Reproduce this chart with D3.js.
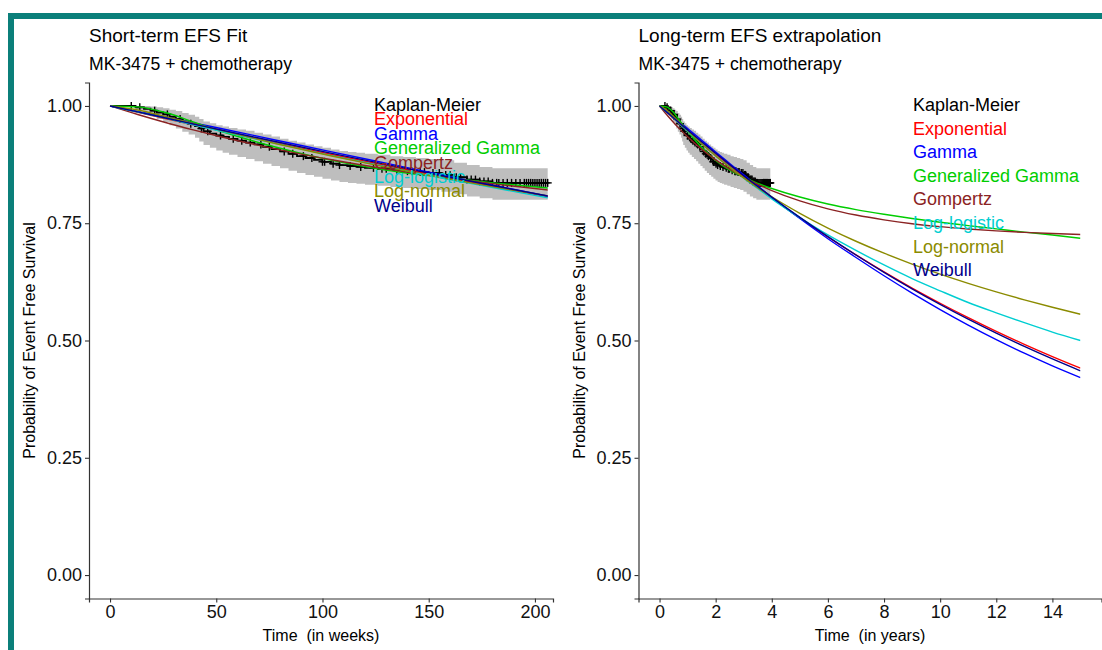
<!DOCTYPE html>
<html><head><meta charset="utf-8">
<script src="https://cdn.jsdelivr.net/npm/d3@7"></script>
<style>
body{margin:0;background:#fff;}
svg{display:block;font-family:"Liberation Sans",Arial,sans-serif;}
text{white-space:pre;}
</style>
</head><body>
<svg id="c" width="1102" height="650"></svg>
<script>
// ---------------- DATA ----------------
// Kaplan-Meier estimate (time in weeks)
const kmWeeks = [0, 12, 16, 19, 22, 25, 28, 31, 34, 37, 40, 42, 44, 47, 50, 53, 56, 60, 64, 68, 72, 76, 80, 84, 88, 92, 96, 100, 104, 108, 112, 116, 120, 126, 132, 138, 144, 150, 156, 162, 168, 174, 180, 206];
const kmSurv  = [1.0, 0.997, 0.994, 0.99, 0.986, 0.982, 0.977, 0.972, 0.967, 0.962, 0.957, 0.952, 0.946, 0.941, 0.937, 0.934, 0.93, 0.926, 0.922, 0.918, 0.913, 0.908, 0.903, 0.898, 0.893, 0.889, 0.885, 0.881, 0.877, 0.874, 0.872, 0.87, 0.868, 0.866, 0.863, 0.861, 0.859, 0.857, 0.853, 0.848, 0.843, 0.839, 0.836, 0.836];
const kmUpper = [1.0, 1.0, 1.0, 0.999, 0.997, 0.995, 0.992, 0.989, 0.985, 0.981, 0.977, 0.972, 0.967, 0.963, 0.959, 0.956, 0.953, 0.95, 0.947, 0.943, 0.939, 0.935, 0.93, 0.926, 0.922, 0.918, 0.914, 0.911, 0.907, 0.904, 0.902, 0.9, 0.898, 0.896, 0.893, 0.891, 0.889, 0.887, 0.884, 0.879, 0.874, 0.87, 0.867, 0.867];
const kmLower = [1.0, 0.99, 0.984, 0.978, 0.972, 0.966, 0.959, 0.952, 0.945, 0.939, 0.932, 0.924, 0.917, 0.911, 0.905, 0.9, 0.896, 0.891, 0.887, 0.882, 0.877, 0.872, 0.867, 0.862, 0.857, 0.853, 0.849, 0.845, 0.841, 0.838, 0.836, 0.834, 0.832, 0.83, 0.827, 0.825, 0.823, 0.821, 0.817, 0.812, 0.807, 0.803, 0.8, 0.8];
const censorWeeks = [10, 14, 21, 27, 33, 38, 43, 46, 52, 58, 62, 66, 71, 75, 82, 86, 91, 95, 100, 101, 105, 108, 113, 118, 124, 128, 130, 135, 140, 142, 146, 148, 152, 155, 158, 160, 163, 165, 168, 170, 172, 174, 176, 178, 180, 182, 183, 185, 187, 189, 191, 193, 195, 196, 197, 198, 199, 200, 201, 202, 203, 204, 205, 206];

// Parametric fits (time in years)
const fitYears = [0, 0.25, 0.5, 0.75, 1, 1.5, 2, 2.5, 3, 3.5, 4, 5, 6, 7, 8, 9, 10, 11, 12, 13, 14, 15];
const exponentialS = [1, 0.9865, 0.9731, 0.9599, 0.9469, 0.9214, 0.8966, 0.8725, 0.849, 0.8262, 0.8039, 0.7612, 0.7207, 0.6824, 0.6462, 0.6118, 0.5794, 0.5486, 0.5194, 0.4918, 0.4657, 0.441];
const gammaS       = [1, 0.9885, 0.9765, 0.964, 0.952, 0.927, 0.902, 0.8775, 0.853, 0.829, 0.805, 0.76, 0.717, 0.677, 0.638, 0.601, 0.566, 0.533, 0.502, 0.473, 0.446, 0.421];
const genGammaS    = [1, 0.998, 0.986, 0.966, 0.946, 0.912, 0.884, 0.863, 0.848, 0.835, 0.824, 0.806, 0.791, 0.779, 0.769, 0.76, 0.752, 0.745, 0.738, 0.731, 0.725, 0.718];
const gompertzS    = [1, 0.9817, 0.9647, 0.949, 0.9343, 0.908, 0.8852, 0.8654, 0.8481, 0.8329, 0.8196, 0.7977, 0.7807, 0.7675, 0.7572, 0.749, 0.7427, 0.7376, 0.7336, 0.7305, 0.728, 0.726];
const logLogisticS = [1, 0.987, 0.974, 0.96, 0.946, 0.92, 0.894, 0.87, 0.846, 0.824, 0.802, 0.762, 0.725, 0.692, 0.661, 0.632, 0.606, 0.581, 0.559, 0.538, 0.518, 0.5];
const logNormalS   = [1, 0.9914, 0.9774, 0.9625, 0.9478, 0.9195, 0.8933, 0.869, 0.8466, 0.826, 0.8064, 0.7711, 0.7397, 0.7116, 0.6862, 0.663, 0.6415, 0.6219, 0.6037, 0.5867, 0.5708, 0.556];
const weibullS     = [1, 0.9873, 0.9744, 0.9616, 0.9488, 0.9236, 0.899, 0.8749, 0.8512, 0.8282, 0.8057, 0.7624, 0.7213, 0.6823, 0.6453, 0.6102, 0.5769, 0.5454, 0.5156, 0.4873, 0.4606, 0.4353];

const legendLabels = ["Kaplan-Meier", "Exponential", "Gamma", "Generalized Gamma", "Gompertz", "Log-logistic", "Log-normal", "Weibull"];
const legendColors = ["#000000", "#FF0000", "#0000FF", "#00CD00", "#8B2323", "#00CED1", "#8B8B00", "#00008B"];
const yTicks = [0, 0.25, 0.5, 0.75, 1];
const yTickLabels = ["0.00", "0.25", "0.50", "0.75", "1.00"];
const weekTicks = [0, 50, 100, 150, 200];
const yearTicks = [0, 2, 4, 6, 8, 10, 12, 14];
const WEEKS_PER_YEAR = 52.18;

const fits = [
  {name: "Exponential", values: exponentialS, color: legendColors[1]},
  {name: "Gamma", values: gammaS, color: legendColors[2]},
  {name: "Generalized Gamma", values: genGammaS, color: legendColors[3]},
  {name: "Gompertz", values: gompertzS, color: legendColors[4]},
  {name: "Log-logistic", values: logLogisticS, color: legendColors[5]},
  {name: "Log-normal", values: logNormalS, color: legendColors[6]},
  {name: "Weibull", values: weibullS, color: legendColors[7]}
];

// ---------------- DRAW ----------------
const svg = d3.select("#c");
svg.append("rect").attr("width", 1102).attr("height", 650).attr("fill", "#fff");
// teal frame
svg.append("rect").attr("x", 11).attr("y", 16).attr("width", 1200).attr("height", 700)
  .attr("fill", "none").attr("stroke", "#0b7f7a").attr("stroke-width", 6);

const yRange = [598.5, 82.5];
const y = d3.scaleLinear().domain([-0.05, 1.05]).range(yRange);

function kmAt(w) {
  let v = 1;
  for (let i = 0; i < kmWeeks.length; i++) { if (kmWeeks[i] <= w) v = kmSurv[i]; }
  return v;
}

const panels = [
  {id: "L", title: "Short-term EFS Fit", xDomain: [-9.9, 208.5], xRange: [89, 553],
   kmScale: 1, fitScale: WEEKS_PER_YEAR, ticks: weekTicks, xMax: 206,
   xTitle: "Time\u00A0 (in weeks)", legendX: 374, legendY0: 105, legendStep: 14.4},
  {id: "R", title: "Long-term EFS extrapolation", xDomain: [-0.75, 15.75], xRange: [638.5, 1101.5],
   kmScale: 1 / WEEKS_PER_YEAR, fitScale: 1, ticks: yearTicks, xMax: 15,
   xTitle: "Time\u00A0 (in years)", legendX: 913, legendY0: 105, legendStep: 23.6}
];

panels.forEach(p => {
  const x = d3.scaleLinear().domain(p.xDomain).range(p.xRange);
  const g = svg.append("g");

  // clip to the time span of data
  g.append("clipPath").attr("id", "clip" + p.id).append("rect")
    .attr("x", x(0) - 2).attr("y", yRange[1]).attr("width", x(p.xMax) - x(0) + 2).attr("height", yRange[0] - yRange[1]);

  // CI band
  const band = d3.area().curve(d3.curveStepAfter)
    .x((d, i) => x(kmWeeks[i] * p.kmScale))
    .y0((d, i) => y(kmLower[i]))
    .y1((d, i) => y(kmUpper[i]));
  g.append("path").datum(kmWeeks).attr("d", band).attr("fill", "#bebebe");

  // KM line
  const kmLine = d3.line().curve(d3.curveStepAfter)
    .x((d, i) => x(kmWeeks[i] * p.kmScale))
    .y((d, i) => y(kmSurv[i]));
  g.append("path").datum(kmWeeks).attr("d", kmLine).attr("fill", "none")
    .attr("stroke", "#000").attr("stroke-width", 1.8);

  // censor marks
  const cg = g.append("g").attr("stroke", "#000").attr("stroke-width", 1.4);
  censorWeeks.forEach(w => {
    const cx = x(w * p.kmScale), cy = y(kmAt(w));
    cg.append("line").attr("x1", cx - 4).attr("x2", cx + 4).attr("y1", cy).attr("y2", cy);
    cg.append("line").attr("x1", cx).attr("x2", cx).attr("y1", cy - 4).attr("y2", cy + 4);
  });

  // fitted curves
  const fg = g.append("g").attr("clip-path", "url(#clip" + p.id + ")");
  fits.forEach(f => {
    const line = d3.line().curve(d3.curveMonotoneX)
      .x((d, i) => x(fitYears[i] * p.fitScale))
      .y((d, i) => y(f.values[i]));
    fg.append("path").datum(fitYears).attr("d", line).attr("fill", "none")
      .attr("stroke", f.color).attr("stroke-width", 1.4);
  });

  // legend (text-only)
  legendLabels.forEach((lab, i) => {
    g.append("text").attr("x", p.legendX).attr("y", p.legendY0 + i * p.legendStep)
      .attr("dominant-baseline", "central").attr("font-size", 18)
      .attr("fill", legendColors[i]).text(lab);
  });

  // axes
  const yAxis = d3.axisLeft(y).tickValues(yTicks).tickFormat((d, i) => yTickLabels[i]).tickSizeOuter(0).tickSize(4).tickPadding(3);
  const ya = svg.append("g").attr("transform", `translate(${p.xRange[0]},0)`).call(yAxis);
  const xAxis = d3.axisBottom(x).tickValues(p.ticks).tickFormat(d3.format("d")).tickSizeOuter(0).tickSize(4).tickPadding(3);
  const xa = svg.append("g").attr("transform", `translate(0,${yRange[0]})`).call(xAxis);
  [ya, xa].forEach(a => {
    a.select(".domain").attr("stroke", "#333").attr("stroke-width", 1.2);
    a.selectAll(".tick line").attr("stroke", "#333").attr("stroke-width", 1.1);
    a.selectAll(".tick text").attr("fill", "#111").attr("font-size", 18)
      .attr("font-family", "'Liberation Sans', Arial, sans-serif");
  });

  // titles
  svg.append("text").attr("x", p.xRange[0]).attr("y", 42).attr("font-size", 19).attr("fill", "#000").text(p.title);
  svg.append("text").attr("x", p.xRange[0]).attr("y", 70).attr("font-size", 17.6).attr("fill", "#000").text("MK-3475 + chemotherapy");
  svg.append("text").attr("x", (p.xRange[0] + p.xRange[1]) / 2).attr("y", 641)
    .attr("text-anchor", "middle").attr("font-size", 16).attr("fill", "#000").text(p.xTitle);
  svg.append("text").attr("transform", `translate(${p.xRange[0] - 54},${(yRange[0] + yRange[1]) / 2}) rotate(-90)`)
    .attr("text-anchor", "middle").attr("font-size", 16).attr("fill", "#000").text("Probability of Event Free Survival");
});
</script>
</body></html>
